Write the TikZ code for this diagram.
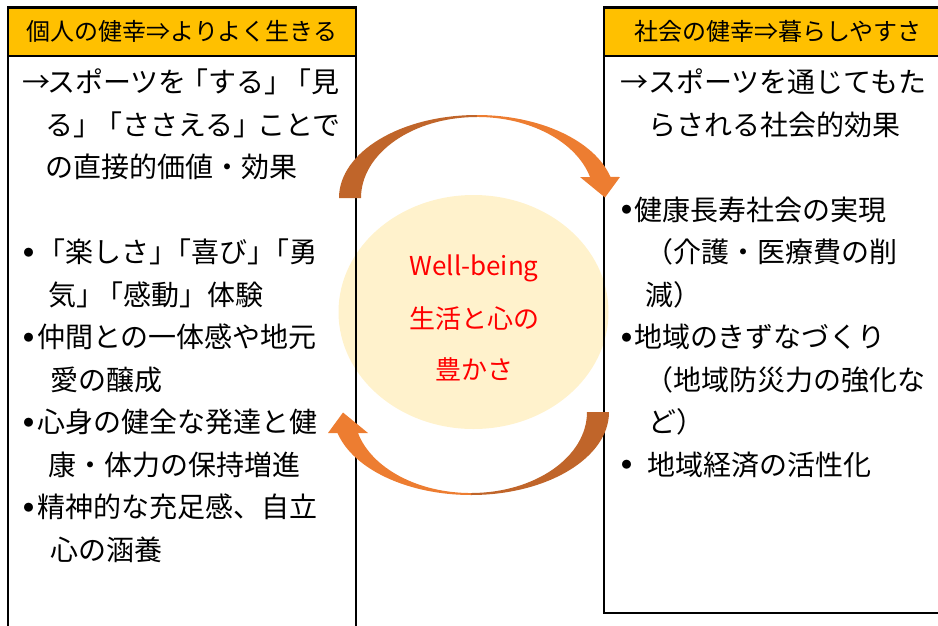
\documentclass[tikz,border=0pt]{standalone}
\usepackage{fontspec}
\setmainfont{Noto Sans CJK JP}
\usetikzlibrary{shapes.geometric}
\definecolor{hdrfill}{HTML}{FFC000}
\definecolor{wbfill}{HTML}{FFF2CC}
\definecolor{arrdark}{RGB}{192,101,42}
\definecolor{arrlight}{HTML}{ED7D31}
\definecolor{wbred}{HTML}{FF0000}
\newcommand{\bul}[1]{\makebox[#1][l]{\hspace{1.5pt}\raisebox{6.6pt}{\fontsize{10}{10}\selectfont ●}}}
\begin{document}
\begin{tikzpicture}[x=1pt,y=-1pt,
  boxline/.style={line width=2.5pt,draw=black},
  hdrtext/.style={anchor=base,inner sep=0pt,font=\fontsize{24}{28}\selectfont},
  bodytext/.style={anchor=base west,inner sep=0pt,font=\fontsize{28}{34}\selectfont},
  wbtext/.style={anchor=base,inner sep=0pt,text=wbred,font=\fontsize{26}{30}\selectfont}]
\useasboundingbox (0,0) rectangle (938,625);
% central ellipse
\node[ellipse, fill=wbfill, minimum width=270pt, minimum height=234pt, inner sep=0pt] (wb) at (473.5,312) {};
% headers
\fill[hdrfill] (8,7.5) rectangle (356,56);
\fill[hdrfill] (604,7.5) rectangle (952,56);
% boxes
\draw[boxline] (8,640) -- (8,7.5) -- (356,7.5) -- (356,640);
\draw[boxline] (8,56) -- (356,56);
\draw[boxline] (604,613) rectangle (952,7.5);
\draw[boxline] (604,56) -- (952,56);
% curved arrows
\foreach \r in {0,180}{
 \begin{scope}[rotate around={\r:(474,305)}]
  \fill[arrdark] (339,198) arc[start angle=180,end angle=270,x radius=138,y radius=83]
     -- (477,117) arc[start angle=270,end angle=180,x radius=116,y radius=81] -- cycle;
  \fill[arrlight] (477,115) arc[start angle=270,end angle=345.3,x radius=138,y radius=83]
     -- (620,177) -- (605,197.5) -- (580,177) -- (590,177)
     arc[start angle=345,end angle=270,x radius=117,y radius=81] -- cycle;
 \end{scope}}
% header texts
\node[hdrtext] (lh) at (182,40.6) {個人の健幸⇒よりよく生きる};
\node[hdrtext] (rh) at (778,40.6) {社会の健幸⇒暮らしやすさ};
% left body
\node[bodytext] (L1) at (22,92.6) {→\kern-3pt スポーツを\kern-6pt「する」\kern-9pt「見};
\node[bodytext] (L2) at (45,135.1) {る」\kern-7pt「ささえる」\kern-4pt ことで};
\node[bodytext] (L3) at (45,177.6) {の直接的価値・効果};
\node[bodytext] (L5) at (22,262.6) {\bul{15pt}「楽しさ」\kern-14pt「喜び」\kern-14pt「勇};
\node[bodytext] (L6) at (48,305.1) {気」\kern-9pt「感動」体験};
\node[bodytext] (L7) at (22,347.6) {\bul{15pt}仲間との一体感や地元};
\node[bodytext] (L8) at (50,390.1) {愛の醸成};
\node[bodytext] (L9) at (22,432.6) {\bul{15pt}心身の健全な発達と健};
\node[bodytext] (L10) at (48,475.1) {康・体力の保持増進};
\node[bodytext] (L11) at (22,517.6) {\bul{15pt}精神的な充足感、自立};
\node[bodytext] (L12) at (50,560.1) {心の涵養};
% right body
\node[bodytext] (R1) at (620,92.6) {→スポーツを通じてもた};
\node[bodytext] (R2) at (648,135.1) {らされる社会的効果};
\node[bodytext] (R4) at (620,220.1) {\bul{14pt}健康長寿社会の実現};
\node[bodytext] (R5) at (645,262.6) {（介護・医療費の削};
\node[bodytext] (R6) at (645,305.1) {減）};
\node[bodytext] (R7) at (620,347.6) {\bul{14pt}地域のきずなづくり};
\node[bodytext] (R8) at (645,390.1) {（地域防災力の強化な};
\node[bodytext] (R9) at (648,432.6) {ど）};
\node[bodytext] (R10) at (620,475.1) {\bul{27pt}地域経済の活性化};
% centre texts
\node[wbtext] (w1) at (474,275) {Well-being};
\node[wbtext] (w2) at (474,328.5) {生活と心の};
\node[wbtext] (w3) at (474,379) {豊かさ};
\end{tikzpicture}
\end{document}
